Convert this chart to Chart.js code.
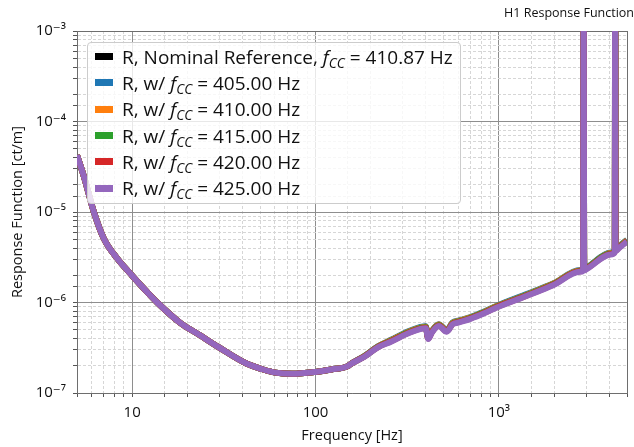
<!DOCTYPE html>
<html>
<head>
<meta charset="utf-8">
<title>H1 Response Function</title>
<script src="https://cdn.jsdelivr.net/npm/chart.js@4.4.1/dist/chart.umd.min.js"></script>
<style>
  body { margin: 0; background: #fff; }
  #wrap { position: relative; width: 634px; height: 447px; }
  #legend {
    position: absolute; left: 87px; top: 42px; width: 374px; height: 162px;
    box-sizing: border-box; padding-top: 0.5px;
    border: 1px solid #cccccc; border-radius: 4px;
    background: rgba(255, 255, 255, 0.8);
    font-family: 'Open Sans', 'DejaVu Sans', sans-serif; font-size: 19px; color: #111;
  }
  #legend .row { display: flex; align-items: center; height: 26.3px; white-space: nowrap; }
  #legend .sw { display: inline-block; width: 18px; height: 7px; margin: 0 9px 0 7px; }
  #legend sub { font-size: 0.72em; vertical-align: -0.3em; line-height: 0; }
</style>
</head>
<body>
<div id="wrap">
  <canvas id="respChart" width="634" height="447"></canvas>
  <div id="legend"></div>
</div>
<script>
/* DATA */

// frequency points [Hz]
const freqs = [5, 5.46, 6.18, 7.0, 8.27, 10, 12, 13.7, 18.2, 23.3, 29.9, 41.7, 51.3, 60.5, 74.5,
  100, 122, 150, 155, 186, 219, 258, 331, 399, 412, 430, 470, 520, 560, 600, 700, 826, 975,
  1416, 1976, 2770, 2880, 2900, 2920, 3036, 4085, 4290, 4310, 4330, 4530, 5000];

// response function [ct/m] per series
const rNominal = [4.25e-5, 2.45e-5, 1.0e-5, 5.1e-6, 3.08e-6, 1.98e-6, 1.32e-6, 1.0e-6, 6.0e-7, 4.37e-7, 3.17e-7, 2.13e-7, 1.83e-7, 1.68e-7, 1.63e-7,
  1.71e-7, 1.82e-7, 1.98e-7, 2.08e-7, 2.57e-7, 3.25e-7, 3.82e-7, 4.85e-7, 5.38e-7, 4.08e-7, 4.76e-7, 5.69e-7, 4.91e-7, 5.95e-7, 6.2e-7, 6.82e-7, 7.81e-7, 9.1e-7,
  1.22e-6, 1.6e-6, 2.25e-6, 2.32e-6, 1e-2, 2.34e-6, 2.44e-6, 3.52e-6, 3.72e-6, 1e-2, 3.8e-6, 4.14e-6, 4.86e-6];
const r405 = [4.25e-5, 2.45e-5, 1.0e-5, 5.1e-6, 3.08e-6, 1.98e-6, 1.32e-6, 1.0e-6, 6.0e-7, 4.37e-7, 3.17e-7, 2.13e-7, 1.83e-7, 1.68e-7, 1.63e-7,
  1.71e-7, 1.82e-7, 1.98e-7, 2.08e-7, 2.59e-7, 3.28e-7, 3.87e-7, 4.92e-7, 5.45e-7, 4.14e-7, 4.82e-7, 5.76e-7, 4.98e-7, 6.03e-7, 6.29e-7, 6.92e-7, 7.91e-7, 9.22e-7,
  1.24e-6, 1.62e-6, 2.28e-6, 2.35e-6, 1e-2, 2.37e-6, 2.47e-6, 3.56e-6, 3.77e-6, 1e-2, 3.86e-6, 4.19e-6, 4.93e-6];
const r410 = [4.25e-5, 2.45e-5, 1.0e-5, 5.1e-6, 3.08e-6, 1.98e-6, 1.32e-6, 1.0e-6, 6.0e-7, 4.37e-7, 3.17e-7, 2.13e-7, 1.83e-7, 1.68e-7, 1.63e-7,
  1.71e-7, 1.82e-7, 1.98e-7, 2.08e-7, 2.58e-7, 3.26e-7, 3.82e-7, 4.86e-7, 5.39e-7, 4.09e-7, 4.77e-7, 5.7e-7, 4.92e-7, 5.96e-7, 6.22e-7, 6.84e-7, 7.82e-7, 9.12e-7,
  1.22e-6, 1.61e-6, 2.26e-6, 2.32e-6, 1e-2, 2.34e-6, 2.44e-6, 3.52e-6, 3.73e-6, 1e-2, 3.81e-6, 4.14e-6, 4.87e-6];
const r415 = [4.25e-5, 2.45e-5, 1.0e-5, 5.1e-6, 3.08e-6, 1.98e-6, 1.32e-6, 1.0e-6, 6.0e-7, 4.37e-7, 3.17e-7, 2.13e-7, 1.83e-7, 1.68e-7, 1.63e-7,
  1.71e-7, 1.82e-7, 1.98e-7, 2.08e-7, 2.56e-7, 3.24e-7, 3.78e-7, 4.8e-7, 5.32e-7, 4.04e-7, 4.71e-7, 5.63e-7, 4.86e-7, 5.89e-7, 6.14e-7, 6.76e-7, 7.73e-7, 9.01e-7,
  1.21e-6, 1.59e-6, 2.23e-6, 2.29e-6, 1e-2, 2.31e-6, 2.42e-6, 3.48e-6, 3.69e-6, 1e-2, 3.77e-6, 4.1e-6, 4.81e-6];
const r420 = [4.25e-5, 2.45e-5, 1.0e-5, 5.1e-6, 3.08e-6, 1.98e-6, 1.32e-6, 1.0e-6, 6.0e-7, 4.37e-7, 3.17e-7, 2.13e-7, 1.83e-7, 1.68e-7, 1.63e-7,
  1.71e-7, 1.82e-7, 1.98e-7, 2.08e-7, 2.55e-7, 3.22e-7, 3.73e-7, 4.75e-7, 5.26e-7, 4.0e-7, 4.66e-7, 5.57e-7, 4.81e-7, 5.82e-7, 6.07e-7, 6.68e-7, 7.64e-7, 8.91e-7,
  1.19e-6, 1.57e-6, 2.21e-6, 2.27e-6, 1e-2, 2.29e-6, 2.39e-6, 3.44e-6, 3.64e-6, 1e-2, 3.72e-6, 4.05e-6, 4.76e-6];
const r425 = [4.25e-5, 2.45e-5, 1.0e-5, 5.1e-6, 3.08e-6, 1.98e-6, 1.32e-6, 1.0e-6, 6.0e-7, 4.37e-7, 3.17e-7, 2.13e-7, 1.83e-7, 1.68e-7, 1.63e-7,
  1.71e-7, 1.82e-7, 1.98e-7, 2.08e-7, 2.53e-7, 3.2e-7, 3.69e-7, 4.69e-7, 5.2e-7, 3.95e-7, 4.6e-7, 5.5e-7, 4.75e-7, 5.75e-7, 6.0e-7, 6.6e-7, 7.55e-7, 8.8e-7,
  1.18e-6, 1.55e-6, 2.18e-6, 2.24e-6, 1e-2, 2.26e-6, 2.36e-6, 3.4e-6, 3.6e-6, 1e-2, 3.68e-6, 4.0e-6, 4.7e-6];

const seriesLabels = [
  'R, Nominal Reference, f_CC = 410.87 Hz',
  'R, w/ f_CC = 405.00 Hz',
  'R, w/ f_CC = 410.00 Hz',
  'R, w/ f_CC = 415.00 Hz',
  'R, w/ f_CC = 420.00 Hz',
  'R, w/ f_CC = 425.00 Hz'
];
const seriesColors = ['#000000', '#1f77b4', '#ff7f0e', '#2ca02c', '#d62728', '#9467bd'];
const seriesValues = [rNominal, r405, r410, r415, r420, r425];

// tick labels (decades only)
const xTickValues = [10, 100, 1000];
const xTickText = ['10', '100', '10³'];
const yTickValues = [1e-7, 1e-6, 1e-5, 1e-4, 1e-3];
const yTickText = ['10⁻⁷', '10⁻⁶', '10⁻⁵', '10⁻⁴', '10⁻³'];

/* CHART */

const FONT = "'Open Sans', 'DejaVu Sans', sans-serif";
const TEXT = '#111';

function isMajor(v) {
  const l = Math.log10(v);
  return Math.abs(l - Math.round(l)) < 1e-6;
}

function labelFor(v, values, texts) {
  const i = values.findIndex(t => Math.abs(Math.log10(t) - Math.log10(v)) < 1e-6);
  return i >= 0 ? texts[i] : '';
}

// major grid solid, minor grid dashed + lighter
const gridColor = (c) => (c.tick && isMajor(c.tick.value)) ? '#8e8e8e' : '#d6d6d6';
const gridDash = (c) => (c.tick && !isMajor(c.tick.value)) ? [3, 2] : [];

const datasets = seriesValues.map((vals, i) => ({
  label: seriesLabels[i],
  data: freqs.map((f, j) => ({ x: f, y: vals[j] })),
  borderColor: seriesColors[i],
  backgroundColor: seriesColors[i],
  borderWidth: 6,
  pointRadius: 0,
  showLine: true,
  fill: false,
  cubicInterpolationMode: 'monotone',
  clip: 0,
  order: seriesValues.length - i   // last series on top
}));

const ctx = document.getElementById('respChart');

const chart = new Chart(ctx, {
  type: 'scatter',
  data: { datasets: datasets },
  options: {
    responsive: false,
    animation: false,
    devicePixelRatio: 1,
    layout: { padding: 0 },
    plugins: {
      legend: { display: false },
      tooltip: { enabled: false },
      title: {
        display: true,
        text: 'H1 Response Function',
        align: 'end',
        color: TEXT,
        font: { family: FONT, size: 12.5, weight: 'normal' },
        padding: { top: 6, bottom: 10 }
      }
    },
    scales: {
      x: {
        type: 'logarithmic',
        position: 'bottom',
        min: 5,
        max: 5000,
        afterFit: (s) => { s.height = 54; },
        grid: { color: gridColor, lineWidth: 1, tickLength: 4, tickColor: '#555' },
        border: { display: true, color: '#6e6e6e', dash: gridDash },
        ticks: {
          autoSkip: false, maxRotation: 0, padding: 7, color: TEXT,
          font: { family: FONT, size: 15 },
          callback: (v) => labelFor(v, xTickValues, xTickText)
        },
        title: {
          display: true, text: 'Frequency [Hz]', color: TEXT,
          font: { family: FONT, size: 14.5 }, padding: { top: 0, bottom: 2 }
        }
      },
      y: {
        type: 'logarithmic',
        position: 'left',
        min: 1e-7,
        max: 1e-3,
        afterFit: (s) => { s.width = 77; },
        grid: { color: gridColor, lineWidth: 1, tickLength: 4, tickColor: '#555' },
        border: { display: true, color: '#6e6e6e', dash: gridDash },
        ticks: {
          autoSkip: false, padding: 7, color: TEXT,
          font: { family: FONT, size: 15 },
          callback: (v) => labelFor(v, yTickValues, yTickText)
        },
        title: {
          display: true, text: 'Response Function [ct/m]', color: TEXT,
          font: { family: FONT, size: 14.5 }, padding: { top: 9, bottom: 0 }
        }
      },
      // frame only (top / right)
      xTop: {
        axis: 'x', type: 'linear', position: 'top', min: 0, max: 1,
        grid: { display: false, drawTicks: false },
        ticks: { display: false },
        border: { display: true, color: '#6e6e6e' },
        afterFit: (s) => { s.height = 0; }
      },
      yRight: {
        axis: 'y', type: 'linear', position: 'right', min: 0, max: 1,
        grid: { display: false, drawTicks: false },
        ticks: { display: false },
        border: { display: true, color: '#6e6e6e' },
        afterFit: (s) => { s.width = 3; }
      }
    }
  }
});

/* HTML LEGEND (italic f with subscript CC) */

const legendBox = document.getElementById('legend');
chart.data.datasets.forEach(ds => {
  const row = document.createElement('div');
  row.className = 'row';
  const sw = document.createElement('span');
  sw.className = 'sw';
  sw.style.background = ds.borderColor;
  const txt = document.createElement('span');
  txt.innerHTML = ds.label.replace('f_CC', '<i>f</i><sub><i>CC</i></sub>');
  row.appendChild(sw);
  row.appendChild(txt);
  legendBox.appendChild(row);
});
</script>
</body>
</html>
